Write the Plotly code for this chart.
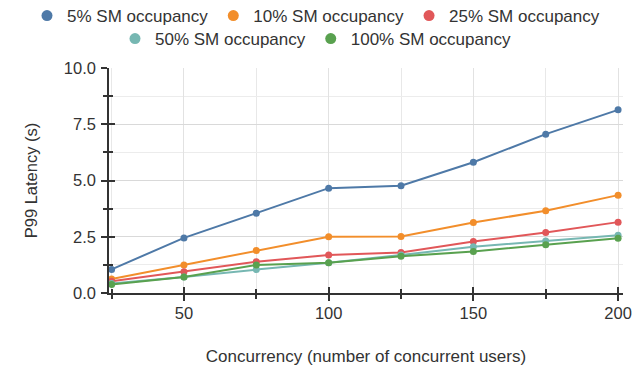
import plotly.graph_objects as go

concurrency = [25, 50, 75, 100, 125, 150, 175, 200]
series_names = ["5% SM occupancy", "10% SM occupancy", "25% SM occupancy",
                "50% SM occupancy", "100% SM occupancy"]
sm5 = [1.05, 2.45, 3.55, 4.66, 4.77, 5.81, 7.06, 8.14]
sm10 = [0.62, 1.25, 1.89, 2.50, 2.51, 3.13, 3.66, 4.35]
sm25 = [0.52, 0.95, 1.39, 1.69, 1.80, 2.29, 2.69, 3.15]
sm50 = [0.42, 0.71, 1.04, 1.34, 1.69, 2.06, 2.31, 2.57]
sm100 = [0.38, 0.71, 1.25, 1.34, 1.63, 1.84, 2.15, 2.43]
colors = ["#4e79a7", "#f28e2b", "#e15759", "#76b7b2", "#59a14f"]
x_title = "Concurrency (number of concurrent users)"
y_title = "P99 Latency (s)"

all_series = [sm5, sm10, sm25, sm50, sm100]
legend_ids = ["legend", "legend", "legend", "legend2", "legend2"]

fig = go.Figure()
for name, ys, c in zip(series_names, all_series, colors):
    fig.add_trace(go.Scatter(
        x=concurrency, y=ys, name=name, mode="lines+markers",
        line=dict(color=c, width=2), marker=dict(color=c, size=7),
        showlegend=False,
    ))
# legend-only entries (circle symbols like the reference)
for name, c, lg in zip(series_names, colors, legend_ids):
    fig.add_trace(go.Scatter(
        x=[None], y=[None], name=name, mode="markers",
        marker=dict(color=c, size=11), legend=lg, hoverinfo="skip",
    ))

# page body has an 8px margin, so the figure is 8px smaller than the window
W, H = 635, 361
ML, MR, MT, MB = 101, 20, 60, 76
PW = W - ML - MR
PH = H - MT - MB

font_family = "Liberation Sans, Arial, sans-serif"
axis_color = "#333333"
fig.update_layout(
    width=W, height=H,
    margin=dict(l=ML, r=MR, t=MT, b=MB, autoexpand=False),
    plot_bgcolor="white", paper_bgcolor="white",
    font=dict(family=font_family, size=16, color="#333333"),
    showlegend=True,
    legend=dict(orientation="h", x=(19 - ML) / PW, xanchor="left",
                y=1 + (MT + 10) / PH, yanchor="top",
                xref="paper", yref="paper",
                font=dict(size=17), itemwidth=30,
                bgcolor="rgba(0,0,0,0)"),
    legend2=dict(orientation="h", x=(107 - ML) / PW, xanchor="left",
                 y=1 + (MT - 13) / PH, yanchor="top",
                 xref="paper", yref="paper",
                 font=dict(size=17), itemwidth=30,
                 bgcolor="rgba(0,0,0,0)"),
    xaxis=dict(
        range=[24.1, 201.7], tick0=0, dtick=50, ticks="outside", ticklen=6,
        tickcolor=axis_color, tickwidth=1.5, ticklabelstandoff=-2,
        showline=True, linecolor=axis_color, linewidth=1.5,
        showgrid=True, gridcolor="#e2e2e2", gridwidth=1, zeroline=False,
        minor=dict(dtick=25, tick0=0, ticks="outside", ticklen=4, tickcolor=axis_color,
                   showgrid=True, gridcolor="#e8e8e8"),
        title=dict(text=x_title, standoff=30, font=dict(size=17)),
        tickfont=dict(size=16.5, color="#333333"),
    ),
    yaxis=dict(
        range=[0, 10], tick0=0, dtick=2.5, tickformat=".1f", ticks="outside", ticklen=6,
        tickcolor=axis_color, tickwidth=1.5, ticklabelstandoff=2,
        showline=True, linecolor=axis_color, linewidth=1.5,
        showgrid=True, gridcolor="#d9d9d9", gridwidth=1, zeroline=False,
        minor=dict(dtick=1.25, tick0=0, ticks="outside", ticklen=4, tickcolor=axis_color,
                   showgrid=True, gridcolor="#ececec"),
        title=dict(text=y_title, standoff=22, font=dict(size=16.5)),
        tickfont=dict(size=16.5, color="#333333"),
    ),
    xaxis2=dict(
        range=[24.1, 201.7], overlaying="x", tick0=0, dtick=50, ticks="inside", ticklen=6,
        tickcolor=axis_color, tickwidth=1.5, showticklabels=False, showgrid=False,
        zeroline=False, showline=False, side="bottom",
        minor=dict(dtick=25, tick0=0, ticks="inside", ticklen=4, tickcolor=axis_color),
    ),
    yaxis2=dict(
        range=[0, 10], overlaying="y", tick0=0, dtick=2.5, ticks="inside", ticklen=6,
        tickcolor=axis_color, tickwidth=1.5, showticklabels=False, showgrid=False,
        zeroline=False, showline=False, side="left",
        minor=dict(dtick=1.25, tick0=0, ticks="inside", ticklen=4, tickcolor=axis_color),
    ),
)
# invisible trace to activate overlay axes
fig.add_trace(go.Scatter(x=[None], y=[None], xaxis="x2", yaxis="y2",
                         showlegend=False, hoverinfo="skip"))

fig.write_html("out.html")
